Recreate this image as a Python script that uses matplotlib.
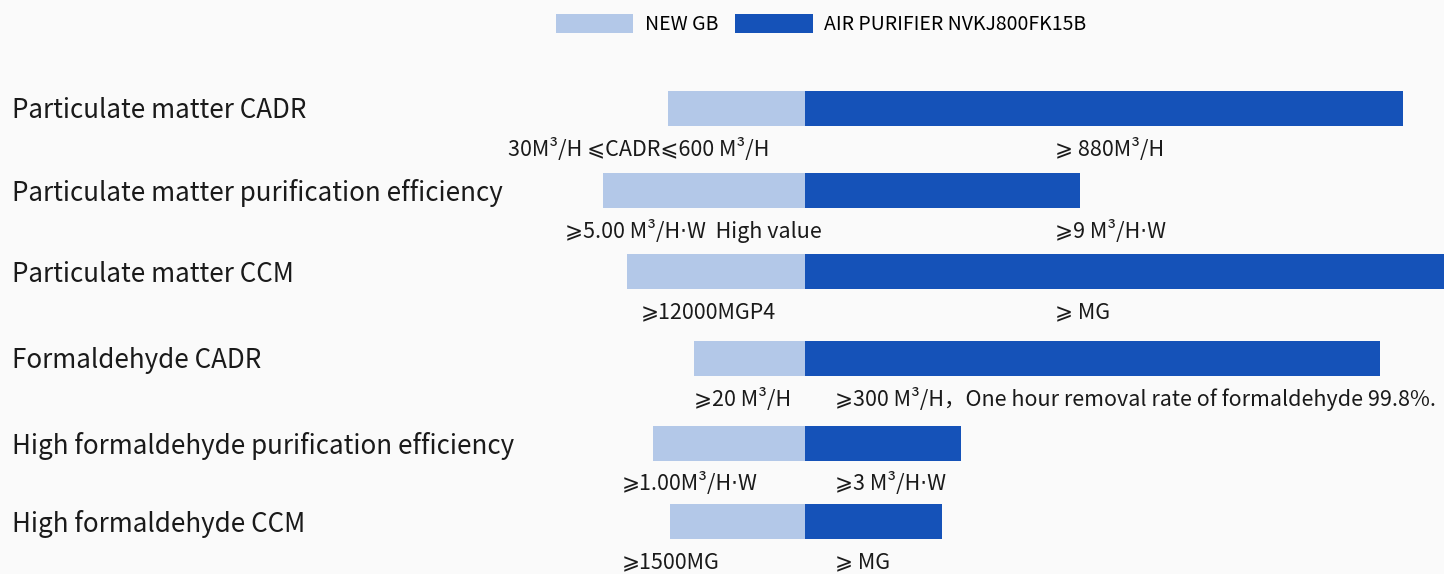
import matplotlib
matplotlib.use("Agg")
import matplotlib.pyplot as plt
from matplotlib.patches import Patch

plt.rcParams['font.family'] = ['Noto Sans CJK SC', 'DejaVu Sans']

# ---- data ----
categories = [
    "Particulate matter CADR",
    "Particulate matter purification efficiency",
    "Particulate matter CCM",
    "Formaldehyde CADR",
    "High formaldehyde purification efficiency",
    "High formaldehyde CCM",
]
series_names = ["NEW GB", "AIR PURIFIER NVKJ800FK15B"]
new_gb = [137, 202, 178, 111, 152, 135]          # bar lengths (left side)
purifier = [598, 275, 660, 575, 156, 137]        # bar lengths (right side)
new_gb_labels = [
    "30M³/H ⩽CADR⩽600 M³/H",
    "⩾5.00 M³/H⋅W  High value",
    "⩾12000MGP4",
    "⩾20 M³/H",
    "⩾1.00M³/H⋅W",
    "⩾1500MG",
]
purifier_labels = [
    "⩾ 880M³/H",
    "⩾9 M³/H⋅W",
    "⩾ MG",
    "⩾300 M³/H，One hour removal rate of formaldehyde 99.8%.",
    "⩾3 M³/H⋅W",
    "⩾ MG",
]

# ---- layout ----
W, H = 1444, 574
center_x = 805
row_y = [108, 190, 271, 358, 443, 521]
bar_h = 35
ann_dy = 41
label_dy = 3
left_ann_x = [508, 565, 641, 694, 622, 622]
right_ann_x = [1055, 1055, 1055, 835, 835, 835]
c_light = "#b3c8e8"
c_dark = "#1552b8"
bg = "#fafafa"
txt = "#1a1a1a"

fig = plt.figure(figsize=(W / 100, H / 100), dpi=100, facecolor=bg)
ax = fig.add_axes([0, 0, 1, 1], facecolor=bg)
ax.set_xlim(-center_x, W - center_x)
ax.set_ylim(H, 0)
ax.axis("off")

ax.barh(row_y, [-v for v in new_gb], left=0, height=bar_h, color=c_light, label=series_names[0])
ax.barh(row_y, purifier, left=0, height=bar_h, color=c_dark, label=series_names[1])

for i, cat in enumerate(categories):
    ax.text(12 - center_x, row_y[i] + label_dy, cat, ha="left", va="center", fontsize=18.7, color=txt)
    ax.text(left_ann_x[i] - center_x, row_y[i] + ann_dy, new_gb_labels[i], ha="left", va="center",
            fontsize=15.5, color=txt)
    ax.text(right_ann_x[i] - center_x, row_y[i] + ann_dy, purifier_labels[i], ha="left", va="center",
            fontsize=15.5, color=txt)

handles = [Patch(facecolor=c_light, edgecolor="none"), Patch(facecolor=c_dark, edgecolor="none")]
ax.legend(handles, series_names, loc="upper center", bbox_to_anchor=(0.5686, 1.0), ncol=2, frameon=False,
          fontsize=14, handlelength=3.97, handleheight=1.13, columnspacing=0.9, handletextpad=0.6,
          borderaxespad=0.3)

fig.savefig("out.png", dpi=100, facecolor=bg)
